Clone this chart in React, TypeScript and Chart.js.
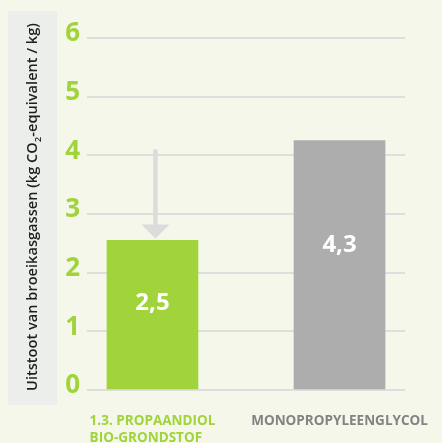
import { useEffect, useRef } from "react";
import { Chart, registerables } from "chart.js";
Chart.register(...registerables);

const categoryLines: string[][] = [["1.3. PROPAANDIOL", "BIO-GRONDSTOF"], ["MONOPROPYLEENGLYCOL"]];
const barPositions = [0, 1];
const values = [2.55, 4.25];
const valueLabels = ["2,5", "4,3"];
const barColors = ["#a0d43a", "#adadad"];
const labelColors = ["#a0d43a", "#838383"];
const arrowFrom = 4.1;
const yTitleParts = ["Uitstoot van broeikasgassen (kg CO", "2", "-equivalent / kg)"];

const BG = "#f4f7ea";
const FONT = "'Open Sans', sans-serif";

const decor = {
  id: "decor",
  beforeDraw(chart: any) {
    const { ctx, width, height } = chart;
    ctx.save();
    ctx.fillStyle = BG;
    ctx.fillRect(0, 0, width, height);
    // y title box
    ctx.fillStyle = "#ebeeea";
    ctx.fillRect(8, 11, 49, 394);
    ctx.translate(33, 207);
    ctx.rotate(-Math.PI / 2);
    ctx.fillStyle = "#1e1e1e";
    const big = `600 14.6px ${FONT}`;
    const small = `600 9.5px ${FONT}`;
    ctx.font = big;
    const w0 = ctx.measureText(yTitleParts[0]).width;
    const w2 = ctx.measureText(yTitleParts[2]).width;
    ctx.font = small;
    const w1 = ctx.measureText(yTitleParts[1]).width;
    const total = w0 + w1 + w2;
    let x = -total / 2;
    ctx.textBaseline = "middle";
    ctx.textAlign = "left";
    ctx.font = big;
    ctx.fillText(yTitleParts[0], x, 0);
    x += w0;
    ctx.font = small;
    ctx.fillText(yTitleParts[1], x, 5);
    x += w1;
    ctx.font = big;
    ctx.fillText(yTitleParts[2], x, 0);
    ctx.restore();
  },
  afterDatasetsDraw(chart: any) {
    const { ctx } = chart;
    const meta = chart.getDatasetMeta(0);
    const yScale = chart.scales.y;
    ctx.save();
    meta.data.forEach((bar: any, i: number) => {
      const ly = bar.y + 0.42 * (bar.base - bar.y);
      ctx.fillStyle = "#ffffff";
      ctx.font = `700 24px ${FONT}`;
      ctx.textAlign = "center";
      ctx.textBaseline = "middle";
      ctx.fillText(valueLabels[i], bar.x, ly);
    });
    // arrow from arrowFrom down to top of first bar
    const b0 = meta.data[0];
    const ax = b0.x + 3;
    const yStart = yScale.getPixelForValue(arrowFrom);
    const tip = b0.y - 2;
    const headH = 14;
    ctx.fillStyle = "#dcdcdc";
    ctx.fillRect(ax - 2.2, yStart, 4.4, tip - headH - yStart + 1);
    ctx.beginPath();
    ctx.moveTo(ax - 14, tip - headH);
    ctx.lineTo(ax + 14, tip - headH);
    ctx.lineTo(ax, tip);
    ctx.closePath();
    ctx.fill();
    ctx.restore();
  },
  afterDraw(chart: any) {
    const { ctx, chartArea, width } = chart;
    const meta = chart.getDatasetMeta(0);
    ctx.save();
    ctx.font = `700 13.5px ${FONT}`;
    ctx.textAlign = "left";
    ctx.textBaseline = "alphabetic";
    meta.data.forEach((bar: any, i: number) => {
      const lines = categoryLines[i];
      const bw = Math.max(...lines.map((l) => ctx.measureText(l).width));
      let x0 = bar.x - bw / 2;
      if (x0 + bw > width - 2) x0 = width - 2 - bw;
      ctx.fillStyle = labelColors[i];
      lines.forEach((l, k) => {
        ctx.fillText(l, x0, chartArea.bottom + 35 + k * 17);
      });
    });
    ctx.restore();
  },
};

export default function App() {
  const ref = useRef<HTMLCanvasElement>(null);
  useEffect(() => {
    document.body.style.margin = "0";
    document.body.style.background = BG;
    const chart = new Chart(ref.current!, {
      type: "bar",
      data: {
        datasets: [
          {
            data: barPositions.map((x, i) => ({ x, y: values[i] })),
            backgroundColor: barColors,
            borderWidth: 0,
            barThickness: 91,
          },
        ],
      },
      options: {
        animation: false,
        responsive: false,
        maintainAspectRatio: false,
        layout: { padding: { top: 38, right: 37, bottom: 53, left: 0 } },
        plugins: { legend: { display: false }, tooltip: { enabled: false } },
        scales: {
          x: {
            type: "linear",
            min: -0.35,
            max: 1.35,
            offset: false,
            display: false,
          },
          y: {
            min: 0,
            max: 6,
            ticks: {
              stepSize: 1,
              color: "#a0d43a",
              font: { family: FONT, size: 26, weight: "bold" },
              padding: 7,
              labelOffset: -4,
            },
            grid: { color: "#dedede", lineWidth: 2, drawTicks: false },
            border: { display: false },
            afterFit: (s: any) => {
              s.width = 87;
            },
          },
        },
      },
      plugins: [decor],
    } as any);
    return () => chart.destroy();
  }, []);
  return (
    <div style={{ width: 442, height: 443, background: BG }}>
      <canvas ref={ref} width={442} height={443} style={{ display: "block" }} />
    </div>
  );
}
